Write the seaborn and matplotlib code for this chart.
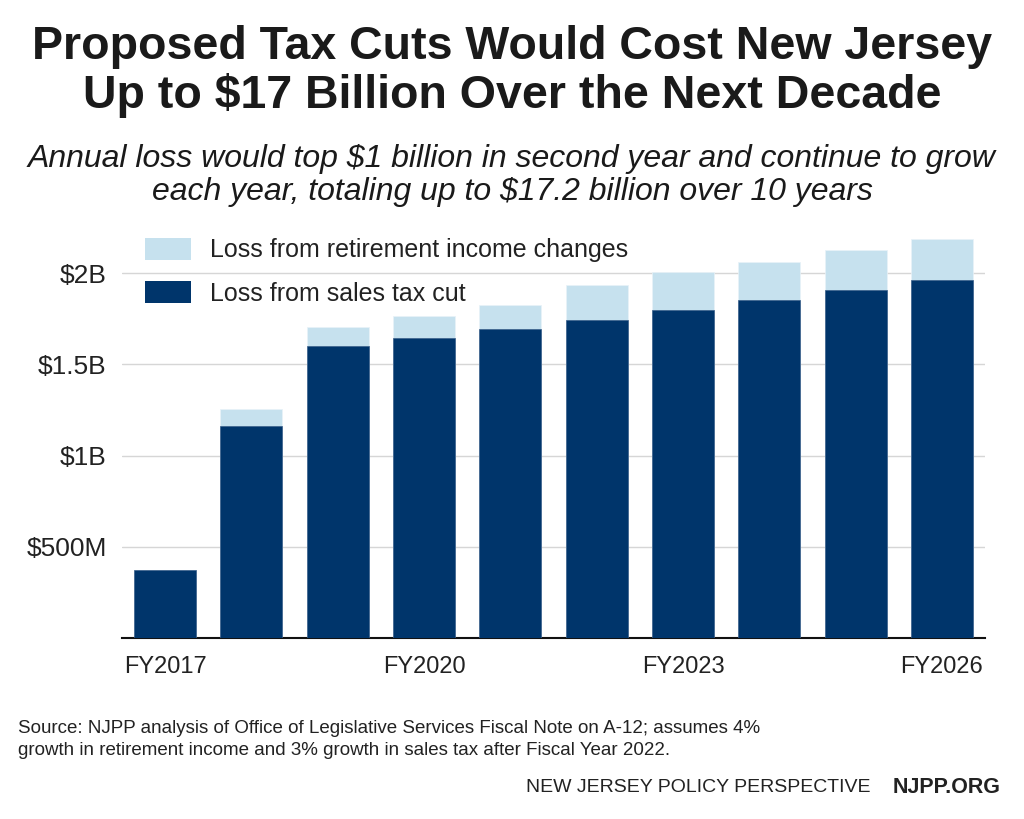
import matplotlib
matplotlib.use("Agg")
import matplotlib.pyplot as plt
import seaborn as sns
import pandas as pd
from matplotlib.patches import Patch

years = ["FY2017", "FY2018", "FY2019", "FY2020", "FY2021", "FY2022",
         "FY2023", "FY2024", "FY2025", "FY2026"]
sales_tax = [0.373, 1.162, 1.600, 1.644, 1.693, 1.742, 1.797, 1.852, 1.907, 1.962]
retirement = [0.0, 0.093, 0.104, 0.120, 0.132, 0.192, 0.208, 0.208, 0.219, 0.224]
shown_labels = ["FY2017", "FY2020", "FY2023", "FY2026"]
ytick_vals = [0.5, 1.0, 1.5, 2.0]
ytick_labels = ["$500M", "$1B", "$1.5B", "$2B"]

DARK = "#00356B"
LIGHT = "#C6E1EE"

sns.set_theme(style="white")
plt.rcParams["font.family"] = ["Liberation Sans", "DejaVu Sans"]

df = pd.DataFrame({"year": years, "sales": sales_tax,
                   "total": [s + r for s, r in zip(sales_tax, retirement)]})

fig = plt.figure(figsize=(10.24, 8.19), dpi=100)
ax = fig.add_axes([0.119, 0.221, 0.843, 0.5013])

sns.barplot(data=df, x="year", y="total", color=LIGHT, width=0.72,
            saturation=1, ax=ax, zorder=2, edgecolor="#e8f2f8", linewidth=0.5)
sns.barplot(data=df, x="year", y="sales", color=DARK, width=0.72,
            saturation=1, ax=ax, zorder=3, edgecolor="#3a5f8a", linewidth=0.5)

ax.set_xlim(-0.5, 9.5)
ax.set_ylim(0, 2.25)
ax.set_yticks(ytick_vals)
ax.set_yticklabels(ytick_labels, fontsize=19, color="#222222")
ax.set_xticks(range(len(years)))
ax.set_xticklabels([y if y in shown_labels else "" for y in years],
                   fontsize=17, color="#222222")
ax.tick_params(axis="x", length=0, pad=13)
ax.tick_params(axis="y", length=8, width=1, color="#d0d0d0", pad=3)
ax.grid(axis="y", color="#d6d6d6", linewidth=1, zorder=0)
ax.set_axisbelow(True)
ax.set_xlabel("")
ax.set_ylabel("")
for s in ["top", "right", "left"]:
    ax.spines[s].set_visible(False)
ax.spines["bottom"].set_color("#111111")
ax.spines["bottom"].set_linewidth(1.5)

handles = [Patch(facecolor=LIGHT, edgecolor="none"),
           Patch(facecolor=DARK, edgecolor="none")]
leg = ax.legend(handles, ["Loss from retirement income changes",
                          "Loss from sales tax cut"],
                loc="upper left", bbox_to_anchor=(0.001, 1.03), frameon=False,
                fontsize=18, handlelength=1.85, handleheight=1.0,
                labelspacing=0.75, handletextpad=0.75)
for t in leg.get_texts():
    t.set_color("#222222")

fig.text(0.5, 0.943, "Proposed Tax Cuts Would Cost New Jersey",
         ha="center", va="center", fontsize=33.5, fontweight="bold", color="#1a1a1a")
fig.text(0.5, 0.883, "Up to $17 Billion Over the Next Decade",
         ha="center", va="center", fontsize=33.5, fontweight="bold", color="#1a1a1a")
fig.text(0.5, 0.806, "Annual loss would top $1 billion in second year and continue to grow",
         ha="center", va="center", fontsize=23, style="italic", color="#1a1a1a")
fig.text(0.5, 0.766, "each year, totaling up to $17.2 billion over 10 years",
         ha="center", va="center", fontsize=23, style="italic", color="#1a1a1a")

fig.text(0.018, 0.111, "Source: NJPP analysis of Office of Legislative Services Fiscal Note on A-12; assumes 4%",
         ha="left", va="center", fontsize=13.5, color="#222222")
fig.text(0.018, 0.084, "growth in retirement income and 3% growth in sales tax after Fiscal Year 2022.",
         ha="left", va="center", fontsize=13.5, color="#222222")
fig.text(0.850, 0.038, "NEW JERSEY POLICY PERSPECTIVE", ha="right", va="center",
         fontsize=14, color="#222222")
fig.text(0.977, 0.038, "NJPP.ORG", ha="right", va="center",
         fontsize=15.5, fontweight="bold", color="#222222")

fig.savefig("out.png", dpi=100, facecolor="white")
